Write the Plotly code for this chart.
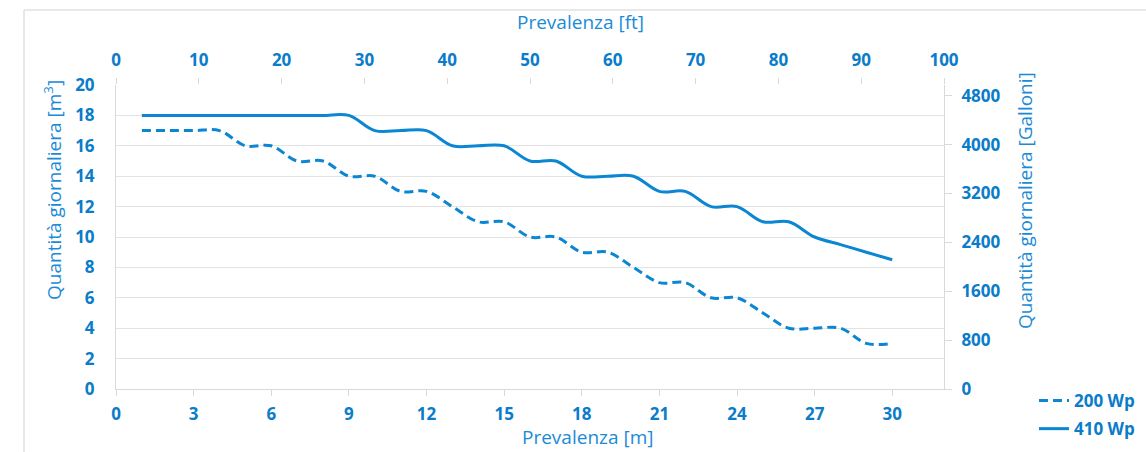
import plotly.graph_objects as go

# Data
head_m = list(range(1, 31))
q_200wp = [17, 17, 17, 17, 16, 16, 15, 15, 14, 14, 13, 13, 12, 11, 11,
           10, 10, 9, 9, 8, 7, 7, 6, 6, 5, 4, 4, 4, 3, 3]
q_410wp = [18, 18, 18, 18, 18, 18, 18, 18, 18, 17, 17, 17, 16, 16, 16,
           15, 15, 14, 14, 14, 13, 13, 12, 12, 11, 11, 10, 9.5, 9, 8.5]
series_names = ["200 Wp", "410 Wp"]

bottom_ticks = list(range(0, 31, 3))
top_ticks = list(range(0, 101, 10))
left_ticks = list(range(0, 21, 2))
right_ticks = list(range(0, 4801, 800))

LINE = "#0b86d3"
TICK = "#0a7cc9"
TITLE = "#1a8bd6"
GRID = "#e3e3e3"
FONT = "Open Sans"

fig = go.Figure()
fig.add_trace(go.Scatter(x=head_m, y=q_200wp, name=series_names[0], mode="lines", legendgroup="a",
                         line=dict(color=LINE, width=3, dash="9px,5px", shape="spline", smoothing=1.0),
                         hoverinfo="x+y"))
fig.add_trace(go.Scatter(x=head_m, y=q_410wp, name=series_names[1], mode="lines", legendgroup="b",
                         line=dict(color=LINE, width=3, shape="spline", smoothing=1.0),
                         hoverinfo="x+y"))
# invisible helper so secondary axes are drawn
fig.add_trace(go.Scatter(x=[top_ticks[0]], y=[right_ticks[0]], xaxis="x2", yaxis="y2",
                         mode="markers", marker=dict(opacity=0), showlegend=False, hoverinfo="skip"))

tickfont = dict(family=FONT, size=17, color=TICK, weight=700)

W, H = 1146, 452
l, r, t, b = 116, 202, 85, 63
pw, ph = W - l - r, H - t - b

fig.update_layout(
    width=W, height=H,
    margin=dict(l=l, r=r, t=t, b=b, autoexpand=False),
    paper_bgcolor="white", plot_bgcolor="white",
    font=dict(family=FONT, color=TITLE),
    showlegend=True,
    legend=dict(x=(1034 - l) / pw, y=(H - b - 383) / ph, xanchor="left", yanchor="top",
                font=dict(family=FONT, size=17, color=TICK, weight=700),
                bgcolor="rgba(0,0,0,0)", itemwidth=30, tracegroupgap=3),
    xaxis=dict(range=[0, 32], tickvals=bottom_ticks, tickfont=tickfont,
               showgrid=False, zeroline=False, showline=True, linecolor="#d9d9d9", linewidth=1,
               ticks="outside", ticklen=6, tickcolor="#d9d9d9", ticklabelstandoff=4),
    xaxis2=dict(range=[0, 100], tickvals=top_ticks, tickfont=tickfont, overlaying="x", side="top",
                anchor="y", showgrid=False, zeroline=False, showline=False,
                ticks="outside", ticklen=6, tickcolor="#d9d9d9", ticklabelstandoff=5),
    yaxis=dict(range=[0, 20], tickvals=left_ticks, tickfont=tickfont,
               showgrid=True, gridcolor=GRID, gridwidth=1, zeroline=False,
               showline=True, linecolor="#d9d9d9", linewidth=1, ticks="", ticklabelstandoff=17),
    yaxis2=dict(range=[0, 4975], tickvals=right_ticks, tickfont=tickfont, overlaying="y", side="right",
                anchor="x", showgrid=False, zeroline=False, showline=True, linecolor="#d9d9d9",
                ticks="outside", ticklen=7, tickcolor="#d9d9d9", ticklabelstandoff=6),
    annotations=[
        dict(text="Prevalenza [ft]", x=580, y=22, xref="paper", yref="paper", showarrow=False,
             xanchor="center", yanchor="middle", font=dict(family=FONT, size=19, color=TITLE)),
        dict(text="Prevalenza [m]", x=587, y=437, xref="paper", yref="paper", showarrow=False,
             xanchor="center", yanchor="middle", font=dict(family=FONT, size=19, color=TITLE)),
        dict(text="Quantità giornaliera [m<sup>3</sup>]", x=53, y=190, xref="paper", yref="paper",
             showarrow=False, textangle=-90, xanchor="center", yanchor="middle",
             font=dict(family=FONT, size=19, color=TITLE)),
        dict(text="Quantità giornaliera [Galloni]", x=1025, y=201, xref="paper", yref="paper",
             showarrow=False, textangle=-90, xanchor="center", yanchor="middle",
             font=dict(family=FONT, size=19, color=TITLE)),
    ],
)

# convert pixel positions of annotations to paper coords
for a in fig.layout.annotations:
    a.x = (a.x - l) / pw
    a.y = (H - b - a.y) / ph

# light frame (top and left edges)
fx = (24 - l) / pw
fy = (H - b - 10) / ph
fig.add_shape(type="line", xref="paper", yref="paper", x0=fx, y0=fy, x1=(W + 10 - l) / pw, y1=fy,
              line=dict(color="#e0e0e0", width=1.5))
fig.add_shape(type="line", xref="paper", yref="paper", x0=fx, y0=fy, x1=fx, y1=(H - b - H - 10) / ph,
              line=dict(color="#e0e0e0", width=1.5))

fig.write_html("out.html", config={"displayModeBar": False},
               post_script="document.body.style.margin='0';document.body.style.overflow='hidden';")
